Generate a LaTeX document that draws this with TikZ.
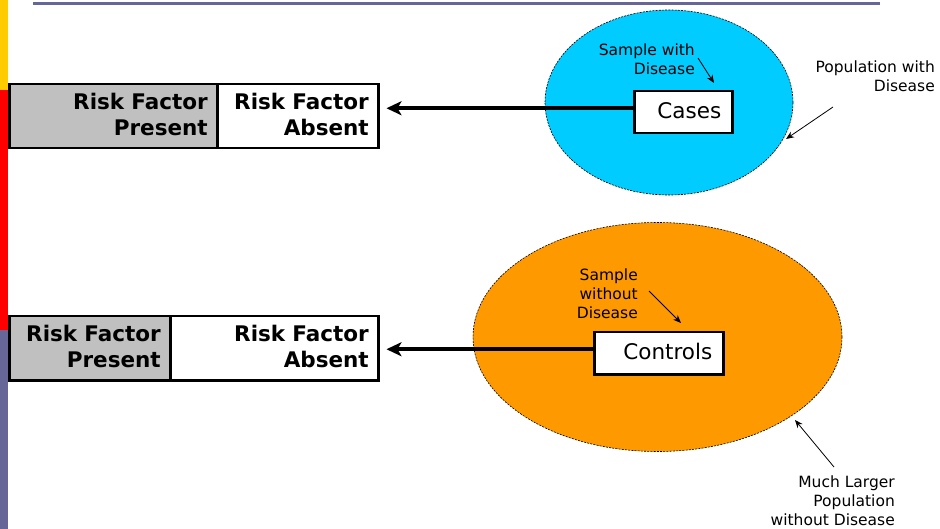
\documentclass[tikz,border=0pt]{standalone}
\usepackage{fontspec}
\setmainfont{DejaVu Sans}
\usetikzlibrary{arrows.meta,shapes.geometric}
\definecolor{slidepurple}{RGB}{102,102,153}
\definecolor{slideyellow}{RGB}{255,204,0}
\definecolor{slidered}{RGB}{255,0,0}
\definecolor{casesblue}{RGB}{0,204,255}
\definecolor{controlsorange}{RGB}{255,153,0}
\definecolor{factorgray}{RGB}{192,192,192}
\begin{document}
\begin{tikzpicture}[x=1pt,y=-1pt,
  factorbox/.style={draw=black, line width=2.5pt, anchor=north west,
    minimum height=64pt, inner xsep=9.5pt, inner ysep=0pt, align=right,
    font=\fontsize{21.5}{26}\selectfont\bfseries},
  samplebox/.style={draw=black, line width=2.5pt, fill=white, anchor=north west,
    minimum height=42pt, inner xsep=11pt, inner ysep=0pt, align=right,
    font=\fontsize{21.5}{24}\selectfont},
  population/.style={ellipse, draw=black, line width=0.6pt,
    dash pattern=on 2pt off 1.2pt, inner sep=0pt},
  note/.style={align=right, inner sep=0pt, anchor=east,
    font=\fontsize{15.5}{19}\selectfont},
  connector/.style={line width=4pt, -{Stealth[length=15pt,width=14pt,inset=4pt]}},
  pointer/.style={line width=0.8pt, -{Stealth[length=8pt,width=6.5pt]}}]
\useasboundingbox (0,0) rectangle (940,529);

% slide decoration: coloured side bar and title rule
\fill[slideyellow] (0,0) rectangle (8,90);
\fill[slidered] (0,90) rectangle (8,330);
\fill[slidepurple] (0,330) rectangle (8,529);
\draw[slidepurple, line width=3pt] (33,3.3) -- (880,3.3);

% populations
\node[population, fill=casesblue, minimum width=248pt, minimum height=185pt]
  (popcases) at (669,102.5) {};
\node[population, fill=controlsorange, minimum width=369pt, minimum height=229pt]
  (popcontrols) at (657.5,337) {};

% samples
\node[samplebox, minimum width=98pt, text width=76pt] (cases) at (633,90) {Cases\rule[-4pt]{0pt}{4pt}};
\node[samplebox, minimum width=129pt, text width=107pt] (controls) at (593,331) {Controls\rule[-4pt]{0pt}{4pt}};

% exposure tables
\node[factorbox, fill=factorgray, text width=189pt] (pres1) at (8,83) {Risk Factor\\Present\rule[-4pt]{0pt}{4pt}};
\node[factorbox, fill=white, text width=142pt] (abs1) at (216,83) {Risk Factor\\Absent\rule[-4pt]{0pt}{4pt}};
\node[factorbox, fill=factorgray, text width=142pt] (pres2) at (8,315) {Risk Factor\\Present\rule[-4pt]{0pt}{4pt}};
\node[factorbox, fill=white, text width=189pt] (abs2) at (169,315) {Risk Factor\\Absent\rule[-4pt]{0pt}{4pt}};

% looking back from samples to exposure
\coordinate (c1) at ([yshift=4pt]cases.west);
\coordinate (c2) at ([yshift=4pt]controls.west);
\draw[connector, shorten >=7pt] (c1) -- (c1 -| abs1.east);
\draw[connector, shorten >=7pt] (c2) -- (c2 -| abs2.east);

% annotations
\node[note] (lblsamplecases) at (695,59.5) {Sample with\\Disease};
\node[note] (lblpopcases) at (935,76) {Population with\\Disease};
\node[note] (lblsamplecontrols) at (638,294) {Sample\\without\\Disease};
\node[note] (lblpopcontrols) at (895,501) {Much Larger\\Population\\without Disease};

\coordinate (p1s) at (698,58);  \coordinate (p1e) at (714,83);
\coordinate (p2s) at (833,107); \coordinate (p2e) at (786,139);
\coordinate (p3s) at (649,291); \coordinate (p3e) at (681,323);
\coordinate (p4s) at (834,467); \coordinate (p4e) at (795,420);
\draw[pointer] (p1s) -- (p1e);
\draw[pointer] (p2s) -- (p2e);
\draw[pointer] (p3s) -- (p3e);
\draw[pointer] (p4s) -- (p4e);
\end{tikzpicture}
\end{document}
